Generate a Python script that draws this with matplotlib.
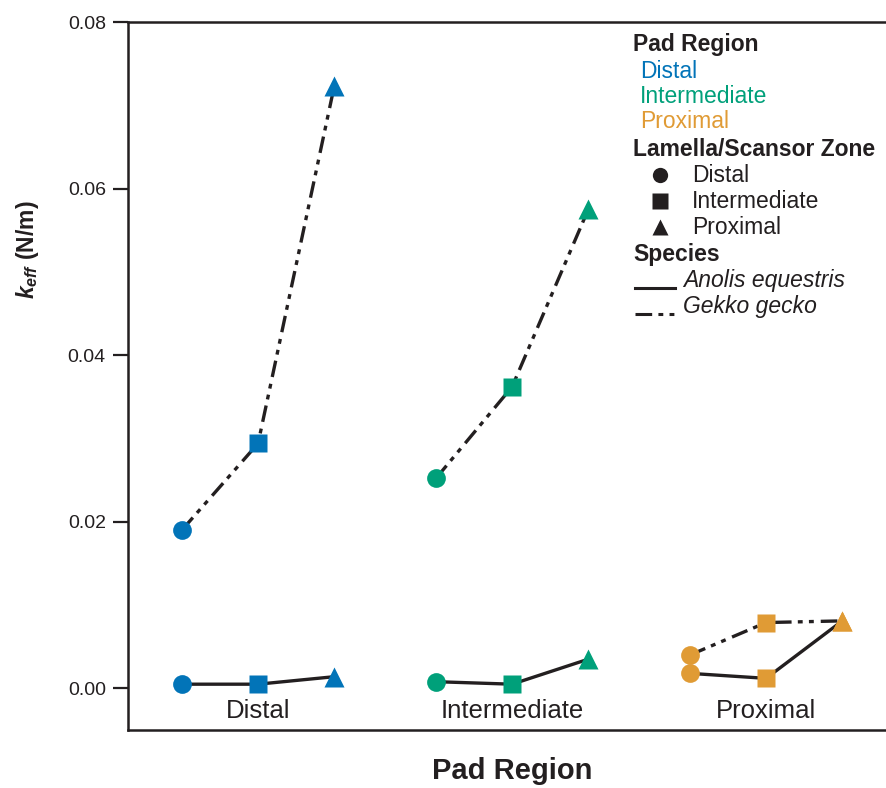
import matplotlib
matplotlib.use('Agg')
import matplotlib.pyplot as plt
from matplotlib.lines import Line2D
from matplotlib.transforms import blended_transform_factory

pad_regions = ['Distal', 'Intermediate', 'Proximal']
zones = ['Distal', 'Intermediate', 'Proximal']
zone_offsets = [-0.3, 0.0, 0.3]

# k_eff (N/m), rows = pad region, columns = lamella/scansor zone
anolis = [[0.0005, 0.0005, 0.0014],
          [0.0008, 0.0005, 0.0035],
          [0.0018, 0.0012, 0.0081]]
gekko = [[0.0190, 0.0294, 0.0723],
         [0.0252, 0.0362, 0.0575],
         [0.0040, 0.0079, 0.0081]]

region_colors = ['#0274B8', '#00A07A', '#E09B35']
zone_markers = ['o', 's', '^']
zone_ms = [13.5, 13, 14.5]
yticks = [0.00, 0.02, 0.04, 0.06, 0.08]

plt.rcParams['font.family'] = ['Liberation Sans', 'DejaVu Sans']
plt.rcParams['mathtext.fontset'] = 'custom'
plt.rcParams['mathtext.it'] = 'Liberation Sans:italic:bold'
plt.rcParams['mathtext.rm'] = 'Liberation Sans:bold'
plt.rcParams['lines.scale_dashes'] = False

ink = '#231f20'
dashdotdot = (0, (12, 4.5, 3.5, 4.5, 3.5, 5))

fig = plt.figure(figsize=(8.87, 7.88), dpi=100)
ax = fig.add_axes([128 / 887, 58 / 788, 1 - 128 / 887, 708 / 788])

for i, region in enumerate(pad_regions):
    xs = [i + off for off in zone_offsets]
    ax.plot(xs, anolis[i], color=ink, lw=2.4, zorder=2)
    ax.plot(xs, gekko[i], color=ink, lw=2.4, linestyle=dashdotdot, zorder=2)
    for j in range(len(zones)):
        for vals in (anolis, gekko):
            ax.plot(xs[j], vals[i][j], marker=zone_markers[j], ms=zone_ms[j],
                    color=region_colors[i], mec='none', zorder=3,
                    clip_on=False)

ax.set_xlim(-0.512, 2.476)
ax.set_ylim(-0.005, 0.08)
ax.set_yticks(yticks)
ax.set_yticklabels([f'{t:.2f}' for t in yticks])
ax.set_xticks(range(len(pad_regions)))
ax.set_xticklabels(pad_regions, fontsize=18.5)
ax.tick_params(axis='x', length=0, pad=-22, colors=ink)
ax.tick_params(axis='y', length=11, width=1.6, pad=5, labelsize=14,
               colors=ink)
for side in ('left', 'top', 'bottom'):
    ax.spines[side].set_linewidth(1.8)
    ax.spines[side].set_color(ink)
ax.spines['right'].set_visible(False)

ax.set_xlabel('Pad Region', fontsize=21, fontweight='bold', color=ink)
ax.xaxis.set_label_coords(
    1.0, -0.038, transform=blended_transform_factory(ax.transData, ax.transAxes))
ax.set_ylabel(r'$k_{eff}$ (N/m)', fontsize=16.5, fontweight='bold', color=ink)
ax.yaxis.label.set_va('center')
ax.yaxis.set_label_coords(-0.132, 0.678)


# legend drawn by hand, positions given in image pixels
def px(x, y):
    return x / 887, 1 - y / 788


legend_fs = 16.5
fig.text(*px(633, 44), 'Pad Region', fontsize=legend_fs, fontweight='bold',
         color=ink, va='center')
for k, region in enumerate(pad_regions):
    fig.text(*px(640, 71 + 25.5 * k), region, fontsize=legend_fs,
             color=region_colors[k], va='center')
fig.text(*px(633, 149), 'Lamella/Scansor Zone', fontsize=legend_fs,
         fontweight='bold', color=ink, va='center')
for k, zone in enumerate(zones):
    fig.add_artist(Line2D([px(660, 0)[0]], [px(0, 175 + 26 * k)[1]],
                          marker=zone_markers[k], ms=11, color=ink,
                          mec='none', transform=fig.transFigure))
    fig.text(*px(692, 175 + 26 * k), zone, fontsize=legend_fs, color=ink,
             va='center')
fig.text(*px(633, 254), 'Species', fontsize=legend_fs, fontweight='bold',
         color=ink, va='center')
species = ['Anolis equestris', 'Gekko gecko']
styles = ['-', dashdotdot]
for k, name in enumerate(species):
    y = 288 + 26 * k
    fig.add_artist(Line2D([px(635, 0)[0], px(675, 0)[0]], [px(0, y)[1]] * 2,
                          color=ink, lw=2.2, linestyle=styles[k],
                          transform=fig.transFigure))
    fig.text(*px(683, 281 + 26 * k), name, fontsize=legend_fs,
             fontstyle='italic', color=ink, va='center')

fig.savefig('out.png', dpi=100)
